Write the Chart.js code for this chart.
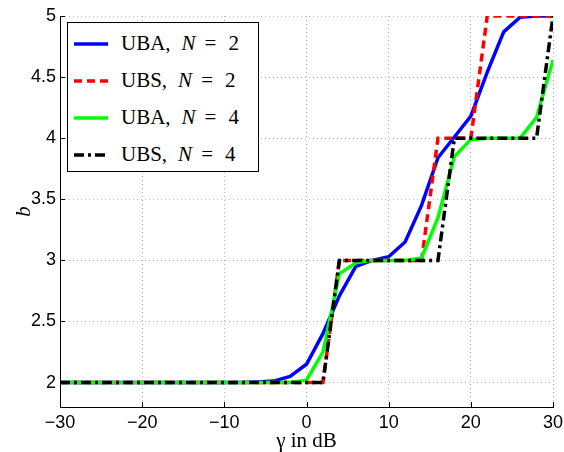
<!DOCTYPE html>
<html>
<head>
<meta charset="utf-8">
<script src="https://cdn.jsdelivr.net/npm/chart.js@4"></script>
<style>
  body { margin: 0; background: #fff; }
  #wrap { position: relative; width: 564px; height: 452px; }
  #legend {
    position: absolute; left: 67px; top: 22px; width: 190px; height: 146px;
    border: 1px solid #000; background: #fff; padding-top: 2px;
    font-family: "Liberation Serif", "DejaVu Serif", serif; font-size: 21px; color: #000;
  }
  .row { position: relative; height: 37px; }
  .row svg { position: absolute; left: 6px; top: 16px; }
  .row .txt { position: absolute; left: 53px; top: 6px; white-space: nowrap; line-height: 24px; }
</style>
</head>
<body>
<div id="wrap">
  <canvas id="plot" width="564" height="452"></canvas>
  <div id="legend"></div>
</div>
<script>
// gamma in dB
var gamma = [-30, -28, -26, -24, -22, -20, -18, -16, -14, -12, -10, -8, -6, -4, -2, 0,
             2, 4, 6, 8, 10, 12, 14, 16, 18, 20, 22, 24, 26, 28, 30];

// b values
var ubaN2 = [2, 2, 2, 2, 2, 2, 2, 2, 2, 2, 2, 2.0, 2.005, 2.012, 2.05, 2.15,
             2.4, 2.71, 2.95, 3.0, 3.03, 3.15, 3.45, 3.84, 4.01, 4.18, 4.54, 4.87, 4.99, 5, 5];
var ubsN2 = [2, 2, 2, 2, 2, 2, 2, 2, 2, 2, 2, 2, 2, 2, 2, 2,
             2, 3, 3, 3, 3, 3, 3, 4, 4, 4, 5, 5, 5, 5, 5];
var ubaN4 = [2, 2, 2, 2, 2, 2, 2, 2, 2, 2, 2, 2, 2, 2, 2, 2.02,
             2.25, 2.89, 2.98, 3.0, 3.0, 3.0, 3.02, 3.35, 3.85, 3.99, 4, 4, 4, 4.17, 4.64];
var ubsN4 = [2, 2, 2, 2, 2, 2, 2, 2, 2, 2, 2, 2, 2, 2, 2, 2,
             2, 3, 3, 3, 3, 3, 3, 3, 4, 4, 4, 4, 4, 4, 5];

var xTicks = [-30, -20, -10, 0, 10, 20, 30];
var yTicks = [2, 2.5, 3, 3.5, 4, 4.5, 5];

// legend text pieces: scheme, N
var seriesNames = ['UBA', 'UBS', 'UBA', 'UBS'];
var seriesN = [2, 2, 4, 4];

function pts(ys) {
    return gamma.map(function (g, i) { return { x: g, y: ys[i] }; });
}

var datasets = [
    { data: pts(ubaN2), borderColor: '#0000ff', borderWidth: 3.5, borderDash: [], order: 4 },
    { data: pts(ubsN2), borderColor: '#ff0000', borderWidth: 3.5, borderDash: [8, 5], order: 3 },
    { data: pts(ubaN4), borderColor: '#00ff00', borderWidth: 3.5, borderDash: [], order: 2 },
    { data: pts(ubsN4), borderColor: '#000000', borderWidth: 3.5, borderDash: [10, 4, 3, 4], order: 1 }
];
datasets.forEach(function (d) {
    d.pointRadius = 0;
    d.fill = false;
    d.tension = 0;
    d.borderCapStyle = 'butt';
    d.borderJoinStyle = 'miter';
});

// inward ticks like the matlab axes
var innerTicks = {
    id: 'innerTicks',
    afterDraw: function (chart) {
        var ctx = chart.ctx, a = chart.chartArea;
        var xs = chart.scales.x, ys = chart.scales.y;
        ctx.save();
        ctx.strokeStyle = '#000';
        ctx.lineWidth = 1;
        ctx.beginPath();
        xTicks.forEach(function (v) {
            var px = Math.round(xs.getPixelForValue(v)) + 0.5;
            ctx.moveTo(px, a.bottom);
            ctx.lineTo(px, a.bottom - 5);
        });
        yTicks.forEach(function (v) {
            var py = Math.round(ys.getPixelForValue(v)) + 0.5;
            ctx.moveTo(a.left, py);
            ctx.lineTo(a.left + 5, py);
        });
        ctx.stroke();
        ctx.restore();
    }
};

var tickFont = { family: '"Liberation Sans", Arial, sans-serif', size: 18 };
var titleFont = { family: '"Liberation Serif", "DejaVu Serif", serif', size: 21 };

var ctx = document.getElementById('plot').getContext('2d');
var chart = new Chart(ctx, {
    type: 'line',
    data: { datasets: datasets },
    plugins: [innerTicks],
    options: {
        responsive: false,
        animation: false,
        devicePixelRatio: 1,
        layout: { padding: { top: 16, right: 11, left: 0, bottom: 0 } },
        plugins: { legend: { display: false }, tooltip: { enabled: false } },
        scales: {
            x: {
                type: 'linear', min: -30, max: 30,
                afterFit: function (s) { s.height = 45; s.paddingLeft = 0; s.paddingRight = 0; },
                afterBuildTicks: function (s) { s.ticks = xTicks.map(function (v) { return { value: v }; }); },
                ticks: {
                    font: tickFont, color: '#000', padding: 5, maxRotation: 0,
                    callback: function (v) { return v < 0 ? '\u2212' + Math.abs(v) : String(v); }
                },
                grid: { color: '#bdbdbd', lineWidth: 1, tickLength: 0 },
                border: { color: '#000', width: 1, dash: [1, 3] },
                title: { display: true, text: '\u03b3 in dB', font: titleFont, color: '#000', padding: { top: 0, bottom: -2 } }
            },
            y: {
                type: 'linear', min: 1.8, max: 5,
                afterFit: function (s) { s.width = 60; s.paddingTop = 0; s.paddingBottom = 0; },
                afterBuildTicks: function (s) { s.ticks = yTicks.map(function (v) { return { value: v }; }); },
                ticks: {
                    font: tickFont, color: '#000', padding: 4,
                    callback: function (v) { return String(v); }
                },
                grid: { color: '#bdbdbd', lineWidth: 1, tickLength: 0 },
                border: { color: '#000', width: 1, dash: [1, 3] },
                title: { display: true, text: 'b', font: { family: titleFont.family, size: 21, style: 'italic' }, color: '#000', padding: { top: 12, bottom: 0 } }
            }
        }
    }
});

// legend built from the datasets
var leg = document.getElementById('legend');
datasets.forEach(function (d, i) {
    var row = document.createElement('div');
    row.className = 'row';
    var dash = d.borderDash.length ? ' stroke-dasharray="' + d.borderDash.join(',') + '"' : '';
    row.innerHTML =
        '<svg width="34" height="6"><line x1="0" y1="3" x2="34" y2="3" stroke="' + d.borderColor +
        '" stroke-width="3.5"' + dash + '/></svg>' +
        '<span class="txt">' + seriesNames[i] + ',<i style="margin-left:11px">N</i>' +
        '<span style="margin-left:9px">=</span><span style="margin-left:12px">' + seriesN[i] + '</span></span>';
    leg.appendChild(row);
});
</script>
</body>
</html>
